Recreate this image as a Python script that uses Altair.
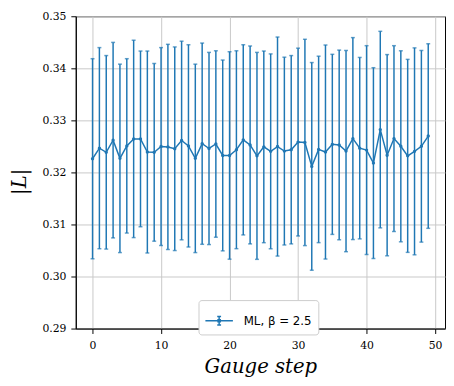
import altair as alt
import pandas as pd

steps = list(range(50))
mean_L = [0.32263, 0.32466, 0.32386, 0.32620, 0.32270, 0.32510, 0.32644, 0.32644, 0.32392, 0.32386,
          0.32497, 0.32490, 0.32455, 0.32613, 0.32510, 0.32270, 0.32552, 0.32460, 0.32546, 0.32326,
          0.32326, 0.32436, 0.32626, 0.32528, 0.32318, 0.32491, 0.32405, 0.32497, 0.32410, 0.32436,
          0.32583, 0.32576, 0.32116, 0.32442, 0.32392, 0.32539, 0.32528, 0.32410, 0.32650, 0.32466,
          0.32429, 0.32179, 0.32823, 0.32331, 0.32650, 0.32502, 0.32318, 0.32405, 0.32502, 0.32699]
err_L = [0.01922, 0.01932, 0.01859, 0.01878, 0.01810, 0.01675, 0.01896, 0.01688, 0.01940, 0.01707,
         0.01901, 0.01971, 0.01956, 0.01908, 0.01943, 0.01810, 0.01933, 0.01846, 0.01791, 0.01833,
         0.01993, 0.01901, 0.01827, 0.01901, 0.01988, 0.01841, 0.01872, 0.02104, 0.01804, 0.01809,
         0.01804, 0.01982, 0.01995, 0.01791, 0.02056, 0.01730, 0.01822, 0.01933, 0.01940, 0.01743,
         0.02006, 0.01833, 0.01888, 0.01933, 0.01785, 0.01835, 0.01854, 0.01988, 0.01841, 0.01773]
series_name = "ML, β = 2.5"
x_ticks = [0, 10, 20, 30, 40, 50]
y_ticks = [0.29, 0.30, 0.31, 0.32, 0.33, 0.34, 0.35]

df = pd.DataFrame({"step": steps, "L": mean_L, "err": err_L})
df["lo"] = df["L"] - df["err"]
df["hi"] = df["L"] + df["err"]
df["series"] = series_name

BLUE = "#1f77b4"

xscale = alt.Scale(domain=[-2.45, 51.45], nice=False, zero=False)
yscale = alt.Scale(domain=[0.29, 0.35], nice=False, zero=False)

xaxis = alt.Axis(values=x_ticks, title="Gauge step", format="d")
yaxis = alt.Axis(values=y_ticks, title="|L|", format=".2f",
                 titleAngle=270, titleX=-57, titleY=168, titleAlign="center",
                 titleBaseline="middle")

base = alt.Chart(df)

bars = base.mark_rule(color=BLUE, strokeWidth=1.5).encode(
    x=alt.X("step:Q", scale=xscale, axis=xaxis),
    y=alt.Y("lo:Q", scale=yscale, axis=yaxis),
    y2="hi:Q",
)
cap_lo = base.mark_tick(color=BLUE, orient="horizontal", size=4, thickness=1.5).encode(
    x=alt.X("step:Q", scale=xscale), y=alt.Y("lo:Q", scale=yscale))
cap_hi = base.mark_tick(color=BLUE, orient="horizontal", size=4, thickness=1.5).encode(
    x=alt.X("step:Q", scale=xscale), y=alt.Y("hi:Q", scale=yscale))

sym = "M-1,0H1M0,-0.31V0.31M-0.14,-0.31H0.14M-0.14,0.31H0.14M-0.08,-0.08H0.08V0.08H-0.08Z"

line = base.mark_line(strokeWidth=1.5).encode(
    x=alt.X("step:Q", scale=xscale),
    y=alt.Y("L:Q", scale=yscale),
    color=alt.Color("series:N", scale=alt.Scale(range=[BLUE]),
                    legend=alt.Legend(title=None, orient="none", legendX=125, legendY=289,
                                      symbolType=sym, symbolSize=784, symbolStrokeWidth=1.5,
                                      symbolStrokeColor=BLUE, symbolFillColor="transparent",
                                      labelFont="DejaVu Sans", labelFontSize=12, labelColor="black",
                                      labelOffset=10, padding=6, strokeColor="#cccccc",
                                      fillColor="white", cornerRadius=3)),
)
pts = base.mark_point(filled=True, color=BLUE, size=12, opacity=1).encode(
    x=alt.X("step:Q", scale=xscale), y=alt.Y("L:Q", scale=yscale))

chart = alt.layer(bars, cap_lo, cap_hi, line, pts).properties(
    width=376, height=318,
    autosize=alt.AutoSizeParams(type="none"),
    padding={"left": 69, "top": 5, "right": 1, "bottom": 52},
).configure_view(
    stroke="black", strokeWidth=1
).configure_axis(
    grid=True, gridColor="#c8c8c8", gridWidth=1,
    domainColor="black", domainWidth=1,
    tickColor="black", tickSize=5, tickWidth=1,
    labelFont="DejaVu Serif", labelFontSize=11, labelColor="black", labelPadding=5,
    titleFont="DejaVu Serif", titleFontStyle="italic", titleFontWeight="normal",
    titleFontSize=20, titleColor="black",
).configure_axisX(
    titlePadding=7, labelPadding=6,
)

chart.save("out.html", embed_options={"renderer": "svg", "actions": False})
